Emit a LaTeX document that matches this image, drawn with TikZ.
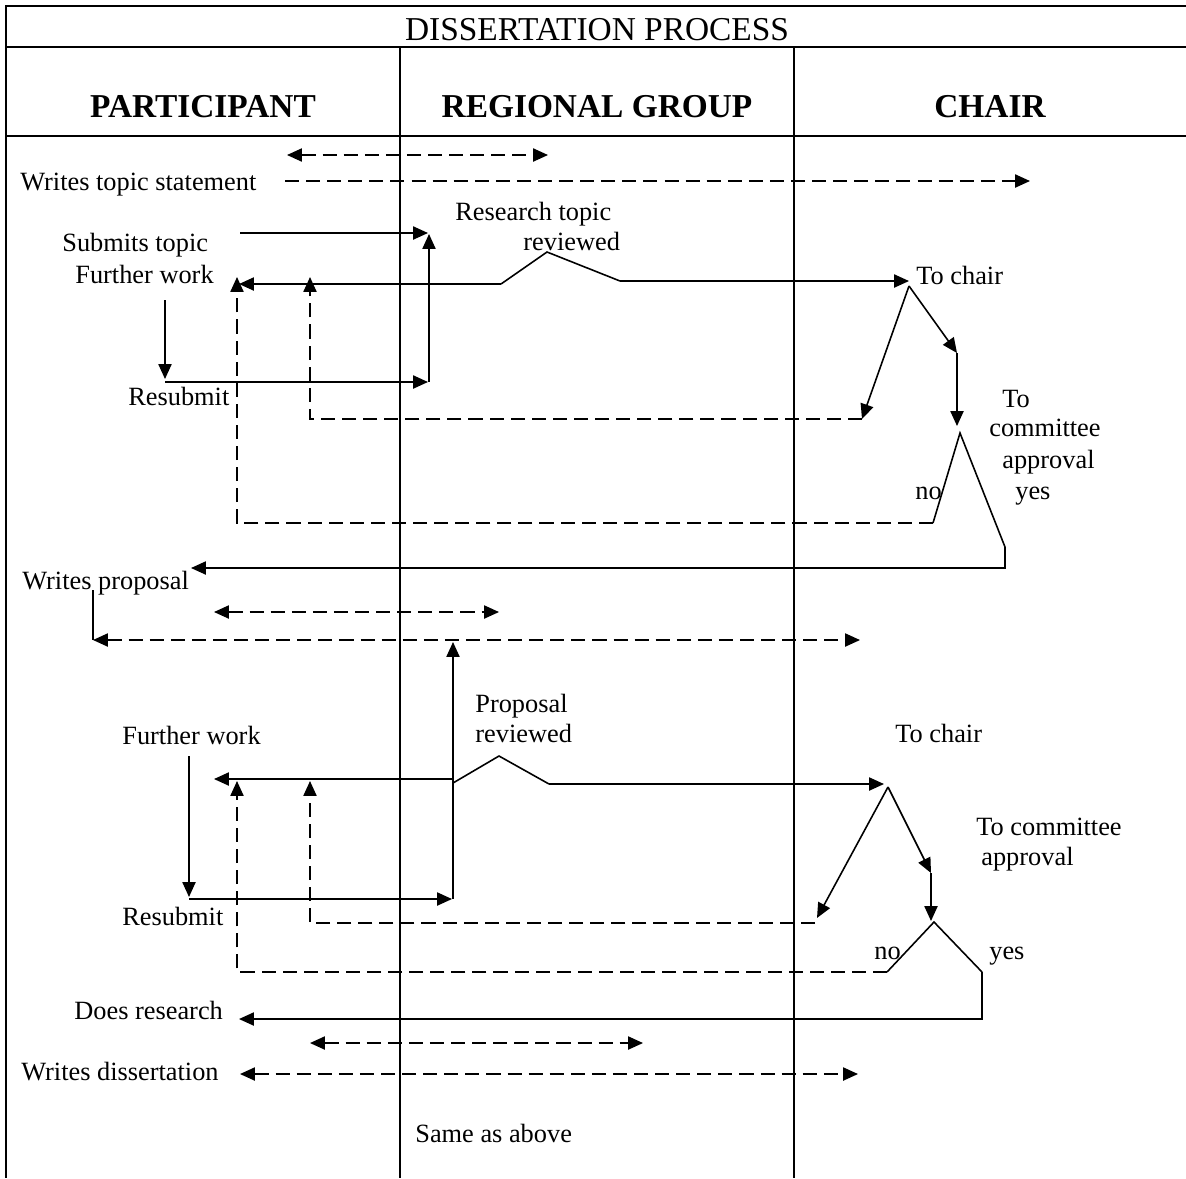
\documentclass[tikz,border=0pt]{standalone}
\usepackage{fontspec}
\setmainfont{Liberation Serif}
\usetikzlibrary{arrows.meta}

\begin{document}
\begin{tikzpicture}[x=0.02cm, y=-0.02cm,
  % Frame and lane lines
  frame/.style={line width=1.3pt},
  lane/.style={line width=1pt},
  % Connector styles
  flow/.style={line width=0.9pt, -{Triangle[length=8.5pt, width=7.5pt]}},
  link/.style={line width=0.9pt},
  dsh/.style={line width=0.9pt, dash pattern=on 8pt off 4pt, -{Triangle[length=8.5pt, width=7.5pt]}},
  both/.style={dsh, {Triangle[length=8.5pt, width=7.5pt]}-{Triangle[length=8.5pt, width=7.5pt]}},
  % Text styles
  lbl/.style={inner sep=0pt, anchor=west, font=\fontsize{15}{18}\selectfont,
              text height=0.9em, text depth=0pt},
  ttl/.style={inner sep=0pt, font=\fontsize{19}{22}\selectfont},
  hdr/.style={inner sep=0pt, font=\fontsize{19}{22}\selectfont\bfseries},
]
\useasboundingbox (0,0) rectangle (1186,1178);

% === Frame ===
\draw[frame] (1186,6) -- (6,6) -- (6,1178);
\draw[frame] (6,47) -- (1186,47);
\draw[frame] (6,136) -- (1186,136);
\draw[lane] (400,47) -- (400,1178);
\draw[lane] (794,47) -- (794,1178);

\node[ttl] (title) at (597,30) {DISSERTATION PROCESS};
\node[hdr] (hdrP) at (203,107) {PARTICIPANT};
\node[hdr] (hdrR) at (597,107) {REGIONAL GROUP};
\node[hdr] (hdrC) at (990,107) {CHAIR};

% === Topic statement ===
\node[lbl] (wts) at (20,183) {Writes topic statement};
\node[lbl] (rtA) at (455,213) {Research topic};
\node[lbl] (rtB) at (523,243) {reviewed};
\node[lbl] (sub) at (62,244) {Submits topic};
\node[lbl] (fw1) at (75,276) {Further work};
\node[lbl] (rs1) at (128,398) {Resubmit};
\node[lbl] (tc1) at (916,277) {To chair};
\node[lbl] (ca1) at (1002,400) {To};
\node[lbl] (ca2) at (989,429) {committee};
\node[lbl] (ca3) at (1002,461) {approval};
\node[lbl] (yes1) at (1015,492) {yes};
\node[lbl] (no1) at (915,492) {no};

\coordinate (t1L) at (287,155);  \coordinate (t1R) at (548,155);
\coordinate (wtsS) at (285,181); \coordinate (wtsE) at (1030,181);
\coordinate (subS) at (240,233); \coordinate (rvIn) at (428,233);
\coordinate (dnS) at (165,300);  \coordinate (dnE) at (165,379);
\coordinate (rsS) at (165,382);  \coordinate (rsE) at (428,382);
\coordinate (upB) at (429,382);  \coordinate (upT) at (429,234);
\coordinate (rvL) at (501,284);  \coordinate (rvP) at (547,252);
\coordinate (rvR) at (620,281);  \coordinate (tc1In) at (909,281);
\coordinate (fw1In) at (239,284);
\coordinate (sp1) at (909,286);  \coordinate (bk1) at (862,419);
\coordinate (ok1) at (957,353);  \coordinate (ok1E) at (957,426);
\coordinate (bk1L) at (310,419); \coordinate (bk1T) at (310,277);
\coordinate (apL) at (933,523);  \coordinate (apP) at (960,433);
\coordinate (apR) at (1005,547); \coordinate (apB) at (1005,568);
\coordinate (no1L) at (237,523); \coordinate (no1T) at (237,277);
\coordinate (wpIn) at (191,568);

\draw[both] (t1L) -- (t1R);
\draw[dsh] (wtsS) -- (wtsE);
\draw[flow] (subS) -- (rvIn);
\draw[flow] (dnS) -- (dnE);
\draw[flow] (rsS) -- (rsE);
\draw[flow] (upB) -- (upT);
\draw[link] (rvL) -- (rvP) -- (rvR);
\draw[flow] (rvR) -- (tc1In);
\draw[flow] (rvL) -- (fw1In);
\draw[flow] (sp1) -- (bk1);
\draw[flow] (sp1) -- (ok1);
\draw[flow] (ok1) -- (ok1E);
\draw[dsh] (bk1) -- (bk1L) -- (bk1T);
\draw[link] (apL) -- (apP) -- (apR);
\draw[flow] (apR) -- (apB) -- (wpIn);
\draw[dsh] (apL) -- (no1L) -- (no1T);

% === Proposal ===
\node[lbl] (wp) at (22,582) {Writes proposal};
\node[lbl] (prA) at (475,705) {Proposal};
\node[lbl] (prB) at (475,735) {reviewed};
\node[lbl] (fw2) at (122,737) {Further work};
\node[lbl] (tc2) at (895,735) {To chair};
\node[lbl] (cb1) at (976,828) {To committee};
\node[lbl] (cb2) at (981,858) {approval};
\node[lbl] (rs2) at (122,918) {Resubmit};
\node[lbl] (no2) at (874,952) {no};
\node[lbl] (yes2) at (989,952) {yes};

\coordinate (wpT) at (93,590);   \coordinate (wpB) at (93,640);
\coordinate (wpR) at (860,640);
\coordinate (t2L) at (214,612);  \coordinate (t2R) at (499,612);
\coordinate (pvB) at (453,899);  \coordinate (pvT) at (453,642);
\coordinate (dn2S) at (189,756); \coordinate (dn2E) at (189,897);
\coordinate (rs2S) at (189,899); \coordinate (rs2E) at (452,899);
\coordinate (pvL) at (453,783);  \coordinate (pvP) at (499,756);
\coordinate (pvR) at (549,784);  \coordinate (tc2In) at (884,784);
\coordinate (pvLL) at (453,779); \coordinate (fw2In) at (214,779);
\coordinate (sp2) at (888,787);  \coordinate (bk2) at (817,918);
\coordinate (ok2) at (931,873);  \coordinate (ok2E) at (931,921);
\coordinate (bk2R) at (815,923); \coordinate (bk2L) at (310,923);
\coordinate (bk2T) at (310,781);
\coordinate (aqL) at (887,972);  \coordinate (aqP) at (934,922);
\coordinate (aqR) at (982,972);  \coordinate (aqB) at (982,1019);
\coordinate (no2L) at (237,972); \coordinate (no2T) at (237,781);
\coordinate (drIn) at (239,1019);

\draw[link] (wpT) -- (wpB);
\draw[both] (wpB) -- (wpR);
\draw[both] (t2L) -- (t2R);
\draw[link] (pvB) -- (pvL);
\draw[flow] (pvL) -- (pvT);
\draw[flow] (dn2S) -- (dn2E);
\draw[flow] (rs2S) -- (rs2E);
\draw[link] (pvL) -- (pvP) -- (pvR);
\draw[flow] (pvR) -- (tc2In);
\draw[flow] (pvLL) -- (fw2In);
\draw[flow] (sp2) -- (bk2);
\draw[flow] (sp2) -- (ok2);
\draw[flow] (ok2) -- (ok2E);
\draw[dsh] (bk2R) -- (bk2L) -- (bk2T);
\draw[link] (aqL) -- (aqP) -- (aqR);
\draw[flow] (aqR) -- (aqB) -- (drIn);
\draw[dsh] (aqL) -- (no2L) -- (no2T);

% === Research and dissertation ===
\node[lbl] (dr) at (74,1012) {Does research};
\node[lbl] (wd) at (21,1073) {Writes dissertation};
\node[lbl] (same) at (415,1135) {Same as above};

\coordinate (t3L) at (310,1043); \coordinate (t3R) at (643,1043);
\coordinate (wdS) at (240,1074); \coordinate (wdE) at (858,1074);

\draw[both] (t3L) -- (t3R);
\draw[both] (wdS) -- (wdE);

\end{tikzpicture}
\end{document}
